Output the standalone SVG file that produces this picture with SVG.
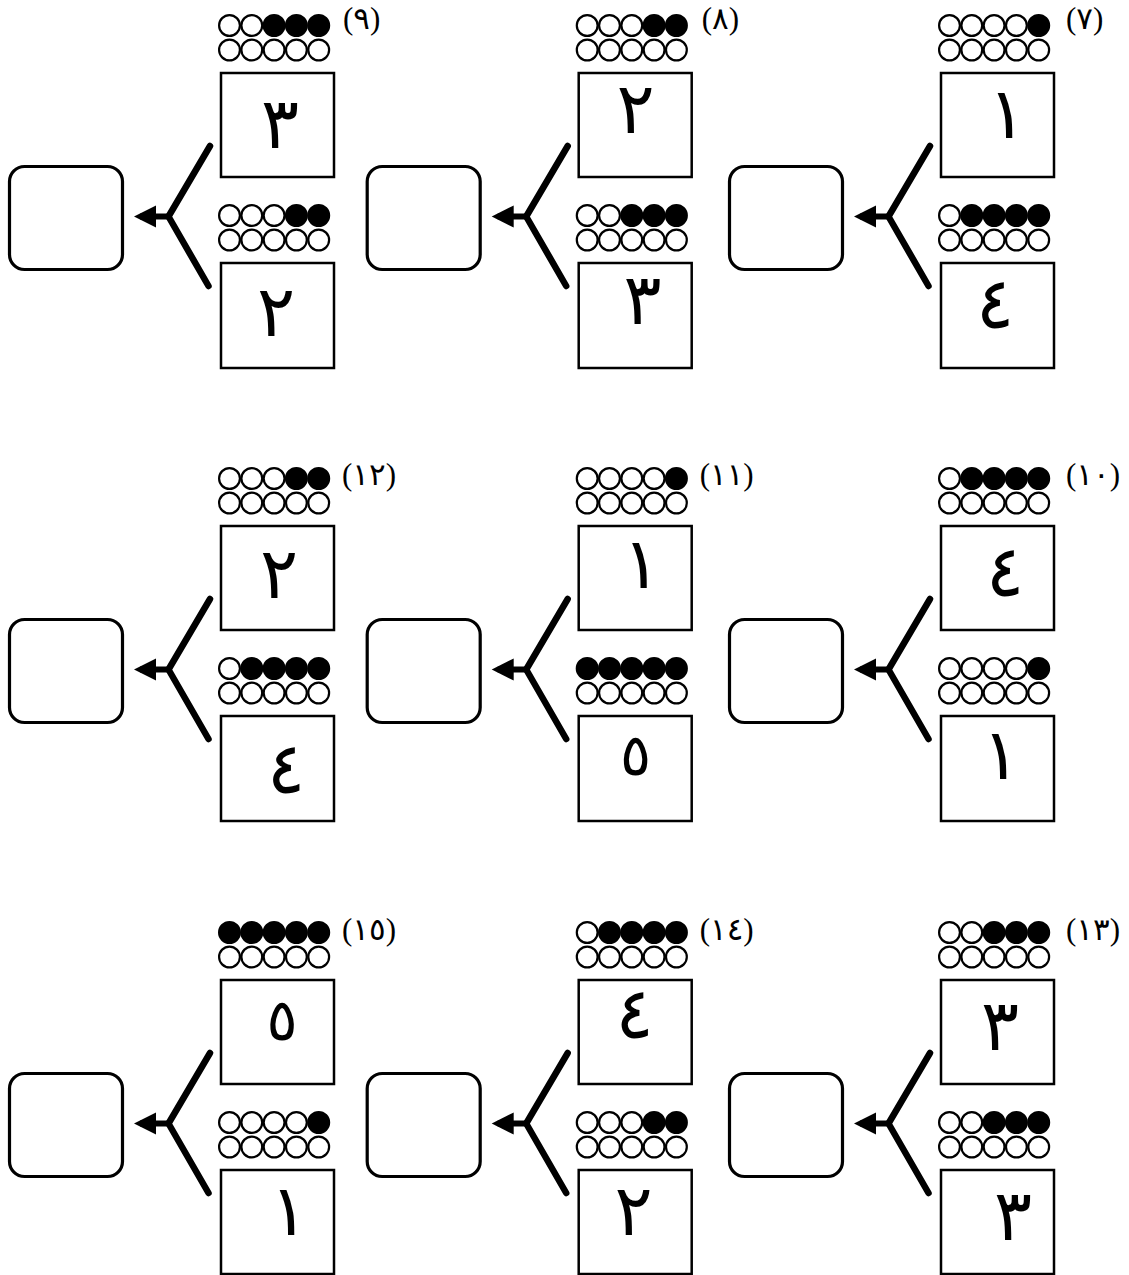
<svg xmlns="http://www.w3.org/2000/svg" xmlns:xlink="http://www.w3.org/1999/xlink" width="1129" height="1275" viewBox="0 0 1129 1275">
<style>
.e{fill:#fff;stroke:#000;stroke-width:2.2}
.f{fill:#000;stroke:#000;stroke-width:2.2}
.box{fill:#fff;stroke:#000;stroke-width:2.5}
.ans{fill:#fff;stroke:#000;stroke-width:3.2}
.dg{font-family:'DejaVu Sans',sans-serif;font-size:71px;fill:#000;text-anchor:middle}
.d5{font-size:58px}
.lb{font-family:'Liberation Serif','DejaVu Sans',serif;font-size:31px;fill:#000}
.yl{fill:none;stroke:#000;stroke-width:6.5;stroke-linecap:round;stroke-linejoin:round}
.sh{fill:none;stroke:#000;stroke-width:6}
</style>
<defs>
<marker id="ah" markerUnits="userSpaceOnUse" markerWidth="24" markerHeight="24" refX="16" refY="11" orient="auto">
<path d="M0,0 L22,11 L0,22 z" fill="#000"/>
</marker>
<g id="r0"><circle class="e" cx="0" cy="0" r="10.4"/><circle class="e" cx="22.3" cy="0" r="10.4"/><circle class="e" cx="44.6" cy="0" r="10.4"/><circle class="e" cx="66.9" cy="0" r="10.4"/><circle class="e" cx="89.2" cy="0" r="10.4"/></g>
<g id="r1"><circle class="e" cx="0" cy="0" r="10.4"/><circle class="e" cx="22.3" cy="0" r="10.4"/><circle class="e" cx="44.6" cy="0" r="10.4"/><circle class="e" cx="66.9" cy="0" r="10.4"/><circle class="f" cx="89.2" cy="0" r="10.4"/></g>
<g id="r2"><circle class="e" cx="0" cy="0" r="10.4"/><circle class="e" cx="22.3" cy="0" r="10.4"/><circle class="e" cx="44.6" cy="0" r="10.4"/><circle class="f" cx="66.9" cy="0" r="10.4"/><circle class="f" cx="89.2" cy="0" r="10.4"/></g>
<g id="r3"><circle class="e" cx="0" cy="0" r="10.4"/><circle class="e" cx="22.3" cy="0" r="10.4"/><circle class="f" cx="44.6" cy="0" r="10.4"/><circle class="f" cx="66.9" cy="0" r="10.4"/><circle class="f" cx="89.2" cy="0" r="10.4"/></g>
<g id="r4"><circle class="e" cx="0" cy="0" r="10.4"/><circle class="f" cx="22.3" cy="0" r="10.4"/><circle class="f" cx="44.6" cy="0" r="10.4"/><circle class="f" cx="66.9" cy="0" r="10.4"/><circle class="f" cx="89.2" cy="0" r="10.4"/></g>
<g id="r5"><circle class="f" cx="0" cy="0" r="10.4"/><circle class="f" cx="22.3" cy="0" r="10.4"/><circle class="f" cx="44.6" cy="0" r="10.4"/><circle class="f" cx="66.9" cy="0" r="10.4"/><circle class="f" cx="89.2" cy="0" r="10.4"/></g>
</defs>

<!-- Unit 9 -->
<g id="unit-9" transform="translate(0,0)">
<text class="lb" x="343" y="29">(٩)</text>
<g id="n9-top"><use xlink:href="#r3" href="#r3" x="229.5" y="25.5"/><use xlink:href="#r0" href="#r0" x="229.5" y="50"/><rect class="box" x="221" y="73" width="113" height="104"/><text class="dg" x="280" y="148">٣</text></g>
<g id="n9-bottom"><use xlink:href="#r2" href="#r2" x="229.5" y="215.5"/><use xlink:href="#r0" href="#r0" x="229.5" y="240"/><rect class="box" x="221" y="263" width="113" height="105"/><text class="dg" x="276" y="336">٢</text></g>
<g id="n9-answer"><rect class="ans" x="9.5" y="166.5" width="113" height="103" rx="15"/></g>
</g>

<!-- Unit 8 -->
<g id="unit-8" transform="translate(357.7,0)">
<text class="lb" x="344" y="29">(٨)</text>
<g id="n8-top"><use xlink:href="#r2" href="#r2" x="229.5" y="25.5"/><use xlink:href="#r0" href="#r0" x="229.5" y="50"/><rect class="box" x="221" y="73" width="113" height="104"/><text class="dg" x="278" y="133">٢</text></g>
<g id="n8-bottom"><use xlink:href="#r3" href="#r3" x="229.5" y="215.5"/><use xlink:href="#r0" href="#r0" x="229.5" y="240"/><rect class="box" x="221" y="263" width="113" height="105"/><text class="dg" x="285" y="324">٣</text></g>
<g id="n8-answer"><rect class="ans" x="9.5" y="166.5" width="113" height="103" rx="15"/></g>
</g>

<!-- Unit 7 -->
<g id="unit-7" transform="translate(720,0)">
<text class="lb" x="346" y="29">(٧)</text>
<g id="n7-top"><use xlink:href="#r1" href="#r1" x="229.5" y="25.5"/><use xlink:href="#r0" href="#r0" x="229.5" y="50"/><rect class="box" x="221" y="73" width="113" height="104"/><text class="dg" x="287" y="138">١</text></g>
<g id="n7-bottom"><use xlink:href="#r4" href="#r4" x="229.5" y="215.5"/><use xlink:href="#r0" href="#r0" x="229.5" y="240"/><rect class="box" x="221" y="263" width="113" height="105"/><text class="dg" x="275" y="328">٤</text></g>
<g id="n7-answer"><rect class="ans" x="9.5" y="166.5" width="113" height="103" rx="15"/></g>
</g>

<!-- Unit 12 -->
<g id="unit-12" transform="translate(0,453)">
<text class="lb" x="342" y="32">(١٢)</text>
<g id="n12-top"><use xlink:href="#r2" href="#r2" x="229.5" y="25.5"/><use xlink:href="#r0" href="#r0" x="229.5" y="50"/><rect class="box" x="221" y="73" width="113" height="104"/><text class="dg" x="279" y="145">٢</text></g>
<g id="n12-bottom"><use xlink:href="#r4" href="#r4" x="229.5" y="215.5"/><use xlink:href="#r0" href="#r0" x="229.5" y="240"/><rect class="box" x="221" y="263" width="113" height="105"/><text class="dg" x="286" y="340">٤</text></g>
<g id="n12-answer"><rect class="ans" x="9.5" y="166.5" width="113" height="103" rx="15"/></g>
</g>

<!-- Unit 11 -->
<g id="unit-11" transform="translate(357.7,453)">
<text class="lb" x="342" y="32">(١١)</text>
<g id="n11-top"><use xlink:href="#r1" href="#r1" x="229.5" y="25.5"/><use xlink:href="#r0" href="#r0" x="229.5" y="50"/><rect class="box" x="221" y="73" width="113" height="104"/><text class="dg" x="284" y="135">١</text></g>
<g id="n11-bottom"><use xlink:href="#r5" href="#r5" x="229.5" y="215.5"/><use xlink:href="#r0" href="#r0" x="229.5" y="240"/><rect class="box" x="221" y="263" width="113" height="105"/><text class="dg d5" x="278" y="322">٥</text></g>
<g id="n11-answer"><rect class="ans" x="9.5" y="166.5" width="113" height="103" rx="15"/></g>
</g>

<!-- Unit 10 -->
<g id="unit-10" transform="translate(720,453)">
<text class="lb" x="346" y="32">(١٠)</text>
<g id="n10-top"><use xlink:href="#r4" href="#r4" x="229.5" y="25.5"/><use xlink:href="#r0" href="#r0" x="229.5" y="50"/><rect class="box" x="221" y="73" width="113" height="104"/><text class="dg" x="285" y="143">٤</text></g>
<g id="n10-bottom"><use xlink:href="#r1" href="#r1" x="229.5" y="215.5"/><use xlink:href="#r0" href="#r0" x="229.5" y="240"/><rect class="box" x="221" y="263" width="113" height="105"/><text class="dg" x="281" y="326">١</text></g>
<g id="n10-answer"><rect class="ans" x="9.5" y="166.5" width="113" height="103" rx="15"/></g>
</g>

<!-- Unit 15 -->
<g id="unit-15" transform="translate(0,907)">
<text class="lb" x="342" y="33">(١٥)</text>
<g id="n15-top"><use xlink:href="#r5" href="#r5" x="229.5" y="25.5"/><use xlink:href="#r0" href="#r0" x="229.5" y="50"/><rect class="box" x="221" y="73" width="113" height="104"/><text class="dg d5" x="282" y="133">٥</text></g>
<g id="n15-bottom"><use xlink:href="#r1" href="#r1" x="229.5" y="215.5"/><use xlink:href="#r0" href="#r0" x="229.5" y="240"/><rect class="box" x="221" y="263" width="113" height="104"/><text class="dg" x="289" y="328">١</text></g>
<g id="n15-answer"><rect class="ans" x="9.5" y="166.5" width="113" height="103" rx="15"/></g>
</g>

<!-- Unit 14 -->
<g id="unit-14" transform="translate(357.7,907)">
<text class="lb" x="342" y="33">(١٤)</text>
<g id="n14-top"><use xlink:href="#r4" href="#r4" x="229.5" y="25.5"/><use xlink:href="#r0" href="#r0" x="229.5" y="50"/><rect class="box" x="221" y="73" width="113" height="104"/><text class="dg" x="277" y="131">٤</text></g>
<g id="n14-bottom"><use xlink:href="#r2" href="#r2" x="229.5" y="215.5"/><use xlink:href="#r0" href="#r0" x="229.5" y="240"/><rect class="box" x="221" y="263" width="113" height="104"/><text class="dg" x="276" y="328">٢</text></g>
<g id="n14-answer"><rect class="ans" x="9.5" y="166.5" width="113" height="103" rx="15"/></g>
</g>

<!-- Unit 13 -->
<g id="unit-13" transform="translate(720,907)">
<text class="lb" x="346" y="33">(١٣)</text>
<g id="n13-top"><use xlink:href="#r3" href="#r3" x="229.5" y="25.5"/><use xlink:href="#r0" href="#r0" x="229.5" y="50"/><rect class="box" x="221" y="73" width="113" height="104"/><text class="dg" x="280" y="143">٣</text></g>
<g id="n13-bottom"><use xlink:href="#r3" href="#r3" x="229.5" y="215.5"/><use xlink:href="#r0" href="#r0" x="229.5" y="240"/><rect class="box" x="221" y="263" width="113" height="104"/><text class="dg" x="293" y="333">٣</text></g>
<g id="n13-answer"><rect class="ans" x="9.5" y="166.5" width="113" height="103" rx="15"/></g>
</g>

<g id="connectors">
<g transform="translate(0,0)"><path class="yl" d="M210,146 L168.5,216.5 L208.5,286"/><path class="sh" d="M168.5,216.5 H140" marker-end="url(#ah)"/></g>
<g transform="translate(357.7,0)"><path class="yl" d="M210,146 L168.5,216.5 L208.5,286"/><path class="sh" d="M168.5,216.5 H140" marker-end="url(#ah)"/></g>
<g transform="translate(720,0)"><path class="yl" d="M210,146 L168.5,216.5 L208.5,286"/><path class="sh" d="M168.5,216.5 H140" marker-end="url(#ah)"/></g>
<g transform="translate(0,453)"><path class="yl" d="M210,146 L168.5,216.5 L208.5,286"/><path class="sh" d="M168.5,216.5 H140" marker-end="url(#ah)"/></g>
<g transform="translate(357.7,453)"><path class="yl" d="M210,146 L168.5,216.5 L208.5,286"/><path class="sh" d="M168.5,216.5 H140" marker-end="url(#ah)"/></g>
<g transform="translate(720,453)"><path class="yl" d="M210,146 L168.5,216.5 L208.5,286"/><path class="sh" d="M168.5,216.5 H140" marker-end="url(#ah)"/></g>
<g transform="translate(0,907)"><path class="yl" d="M210,146 L168.5,216.5 L208.5,286"/><path class="sh" d="M168.5,216.5 H140" marker-end="url(#ah)"/></g>
<g transform="translate(357.7,907)"><path class="yl" d="M210,146 L168.5,216.5 L208.5,286"/><path class="sh" d="M168.5,216.5 H140" marker-end="url(#ah)"/></g>
<g transform="translate(720,907)"><path class="yl" d="M210,146 L168.5,216.5 L208.5,286"/><path class="sh" d="M168.5,216.5 H140" marker-end="url(#ah)"/></g>
</g>
</svg>
